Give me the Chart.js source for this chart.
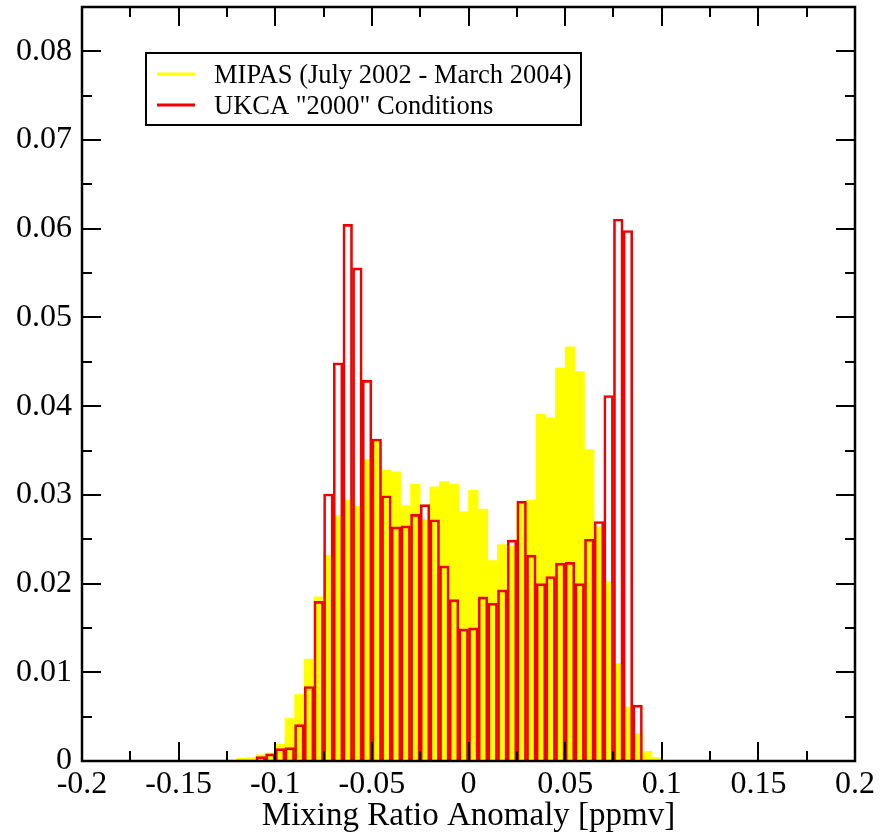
<!DOCTYPE html>
<html><head><meta charset="utf-8">
<script src="https://cdn.jsdelivr.net/npm/chart.js@4.4.1/dist/chart.umd.min.js"></script>
<style>html,body{margin:0;padding:0;background:#fff;}canvas{display:block;}</style>
</head><body>
<canvas id="c" width="886" height="834"></canvas>
<script>
// Histogram bin centres (bin width 0.005 ppmv)
const binCenters = [-0.1175, -0.1125, -0.1075, -0.1025, -0.0975, -0.0925, -0.0875, -0.0825, -0.0775, -0.0725,
  -0.0675, -0.0625, -0.0575, -0.0525, -0.0475, -0.0425, -0.0375, -0.0325, -0.0275, -0.0225,
  -0.0175, -0.0125, -0.0075, -0.0025, 0.0025, 0.0075, 0.0125, 0.0175, 0.0225, 0.0275,
  0.0325, 0.0375, 0.0425, 0.0475, 0.0525, 0.0575, 0.0625, 0.0675, 0.0725, 0.0775,
  0.0825, 0.0875, 0.0925, 0.0975];
const mipasValues = [0.0003, 0.0004, 0.0007, 0.0009, 0.0019, 0.0048, 0.0075, 0.0115, 0.0185, 0.0232,
  0.0277, 0.0294, 0.0287, 0.0340, 0.0360, 0.0328, 0.0326, 0.0288, 0.0312, 0.0272,
  0.0309, 0.0315, 0.0312, 0.0281, 0.0305, 0.0284, 0.0226, 0.0244, 0.0242, 0.0290,
  0.0294, 0.0391, 0.0387, 0.0443, 0.0467, 0.0439, 0.0351, 0.0264, 0.0202, 0.0110,
  0.0061, 0.0031, 0.0011, 0.0004];
const ukcaValues = [null, null, 0.0005, 0.0008, 0.0014, 0.0015, 0.0041, 0.0084, 0.0180, 0.0301,
  0.0449, 0.0605, 0.0556, 0.0429, 0.0363, 0.0299, 0.0264, 0.0265, 0.0278, 0.0289,
  0.0272, 0.0220, 0.0182, 0.0149, 0.0150, 0.0185, 0.0178, 0.0193, 0.0249, 0.0293,
  0.0232, 0.0200, 0.0208, 0.0223, 0.0224, 0.0200, 0.0250, 0.0270, 0.0412, 0.0611,
  0.0598, 0.0063, null, null];
const seriesLabels = ['MIPAS (July 2002 - March 2004)', 'UKCA "2000" Conditions'];
const xMajorTicks = [-0.2, -0.15, -0.1, -0.05, 0, 0.05, 0.1, 0.15, 0.2];
const xTickLabels = ['-0.2', '-0.15', '-0.1', '-0.05', '0', '0.05', '0.1', '0.15', '0.2'];
const xMinorTicks = [-0.175, -0.125, -0.075, -0.025, 0.025, 0.075, 0.125, 0.175];
const yMajorTicks = [0, 0.01, 0.02, 0.03, 0.04, 0.05, 0.06, 0.07, 0.08];
const yTickLabels = ['0', '0.01', '0.02', '0.03', '0.04', '0.05', '0.06', '0.07', '0.08'];
const yMinorTicks = [0.005, 0.015, 0.025, 0.035, 0.045, 0.055, 0.065, 0.075];
const xTitle = 'Mixing Ratio Anomaly [ppmv]';

const SERIF = "'Liberation Serif', 'Times New Roman', serif";
const YELLOW = '#ffff00';
const RED = '#f00000';

const framePlugin = {
  id: 'frame',
  afterDatasetsDraw(chart) {
    const {ctx, chartArea: a, scales: {x, y}} = chart;
    ctx.save();
    ctx.strokeStyle = '#000';
    ctx.lineWidth = 2;
    ctx.beginPath();
    const vt = (vals, len) => vals.forEach(v => {
      const px = Math.round(x.getPixelForValue(v));
      ctx.moveTo(px, a.bottom); ctx.lineTo(px, a.bottom - len);
      ctx.moveTo(px, a.top); ctx.lineTo(px, a.top + len);
    });
    const ht = (vals, len) => vals.forEach(v => {
      const py = Math.round(y.getPixelForValue(v));
      ctx.moveTo(a.left, py); ctx.lineTo(a.left + len, py);
      ctx.moveTo(a.right, py); ctx.lineTo(a.right - len, py);
    });
    vt(xMajorTicks, 19); vt(xMinorTicks, 10);
    ht(yMajorTicks, 19); ht(yMinorTicks, 10);
    ctx.stroke();
    ctx.lineWidth = 2.5;
    ctx.strokeRect(a.left, a.top, a.right - a.left, a.bottom - a.top);

    // Legend box
    const lx = 146, ly = 53, lw = 435, lh = 72;
    ctx.fillStyle = '#fff';
    ctx.fillRect(lx, ly, lw, lh);
    ctx.lineWidth = 2;
    ctx.strokeRect(lx, ly, lw, lh);
    const rows = [{y: 74, color: YELLOW, base: 83}, {y: 105, color: RED, base: 114}];
    chart.data.datasets.forEach((ds, i) => {
      const r = rows[i];
      ctx.strokeStyle = r.color;
      ctx.lineWidth = 3;
      ctx.beginPath(); ctx.moveTo(157, r.y); ctx.lineTo(195, r.y); ctx.stroke();
      ctx.fillStyle = '#000';
      ctx.font = '26.5px ' + SERIF;
      ctx.textBaseline = 'alphabetic';
      ctx.textAlign = 'left';
      ctx.fillText(ds.label, 214, r.base);
    });
    ctx.restore();
  }
};

new Chart(document.getElementById('c'), {
  type: 'bar',
  data: {
    datasets: [
      {
        label: seriesLabels[0],
        data: binCenters.map((c, i) => ({x: c, y: mipasValues[i]})),
        backgroundColor: YELLOW,
        borderWidth: 0,
        order: 2
      },
      {
        label: seriesLabels[1],
        data: binCenters.map((c, i) => ({x: c, y: ukcaValues[i]})),
        backgroundColor: 'rgba(0,0,0,0)',
        borderColor: RED,
        borderWidth: 2,
        borderSkipped: 'start',
        order: 1
      }
    ]
  },
  options: {
    responsive: false,
    animation: false,
    devicePixelRatio: 1,
    events: [],
    grouped: false,
    barPercentage: 1,
    categoryPercentage: 1,
    layout: {padding: {left: 0, right: 31, top: 7, bottom: 0}},
    plugins: {legend: {display: false}, tooltip: {enabled: false}},
    scales: {
      x: {
        type: 'linear',
        min: -0.2, max: 0.2,
        offset: false,
        grid: {display: false, drawTicks: false},
        border: {display: false},
        afterBuildTicks: s => { s.ticks = xMajorTicks.map(v => ({value: v})); },
        afterFit: s => { s.height = 73; },
        ticks: {
          color: '#000', padding: 4, maxRotation: 0, autoSkip: false,
          font: {family: SERIF, size: 32},
          callback: (v, i) => xTickLabels[i]
        },
        title: {display: true, text: xTitle, color: '#000', padding: 0,
          font: {family: SERIF, size: 33, lineHeight: 1.1}}
      },
      y: {
        type: 'linear',
        min: 0, max: 0.085,
        grid: {display: false, drawTicks: false},
        border: {display: false},
        afterBuildTicks: s => { s.ticks = yMajorTicks.map(v => ({value: v})); },
        afterFit: s => { s.width = 82; s.paddingTop = 0; s.paddingBottom = 0; },
        ticks: {
          color: '#000', padding: 10, autoSkip: false,
          font: {family: SERIF, size: 32},
          callback: (v, i) => yTickLabels[i]
        }
      }
    }
  },
  plugins: [framePlugin]
});
</script>
</body></html>
